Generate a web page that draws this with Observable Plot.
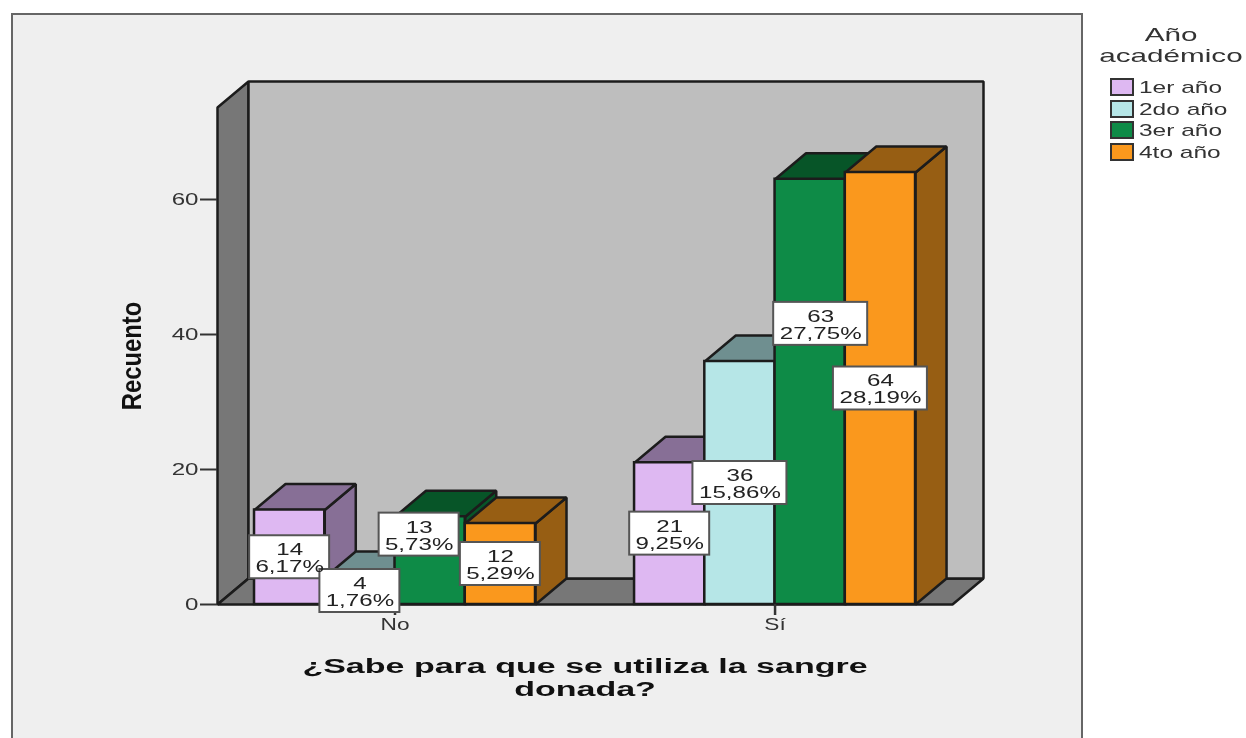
<!DOCTYPE html>
<html lang="es">
<head>
<meta charset="utf-8">
<script src="https://cdn.jsdelivr.net/npm/d3@7"></script>
<script src="https://cdn.jsdelivr.net/npm/@observablehq/plot@0.6"></script>
<style>
html,body{margin:0;padding:0;background:#fff;width:1246px;height:738px;overflow:hidden;font-family:"Liberation Sans",Arial,sans-serif}
#panel{position:absolute;left:11px;top:13px;width:1068px;height:725px;background:#efefef;border:2px solid #666;border-bottom:none;box-sizing:content-box}
#chart{position:absolute;left:0;top:0;filter:blur(0.5px)}
#legend{position:absolute;left:1090px;top:0;width:156px;height:180px;color:#333;font-size:17px;filter:blur(0.5px)}
#legend .t{position:absolute;left:15px;width:132px;text-align:center;font-size:19px;transform:scaleX(1.56);transform-origin:66px 0;line-height:20px}
#legend .s{position:absolute;left:20px;width:20px;height:14px;border:2px solid #333}
#legend .l{position:absolute;left:49px;line-height:20px;white-space:nowrap;transform:scaleX(1.44);transform-origin:0 0}
</style>
</head>
<body>
<div id="panel"></div>
<div id="chart"></div>
<div id="legend"></div>
<script>
const categories = ["No", "Sí"];
const series = ["1er año", "2do año", "3er año", "4to año"];
const counts = [[14, 4, 13, 12], [21, 36, 63, 64]];
const percents = [["6,17%", "1,76%", "5,73%", "5,29%"], ["9,25%", "15,86%", "27,75%", "28,19%"]];
const yTicks = [0, 20, 40, 60];
const frontColors = ["#deb8f2", "#b6e6e7", "#0e8b47", "#fa981d"];
const shadeColors = ["#876f96", "#6f8f90", "#075528", "#975e13"];
const xLabel = "¿Sabe para que se utiliza la sangre\ndonada?";
const yLabel = "Recuento";
const legendTitle = ["Año", "académico"];

// Layout helpers (one x unit = one bar width)
const pxPerX = 70.25, pxPerY = 6.75;
const xDomain = [-2.527, 7.936], yDomain = [0, 73.63];
const groupPos = [0, 5.41];
const depthX = 31 / pxPerX, depthY = 26 / pxPerY;
const nudges = {"0-2": [-11, -26], "1-2": [10.5, -68]};

const poly = (id, color, pts) => pts.map(([x, y]) => ({id, color, x, y}));
const faces = [];
const [xa, xb] = xDomain, yTop = yDomain[1];
faces.push(...poly("wall", "#777777", [[xa, 0], [xa, yTop], [xa + depthX, yTop + depthY], [xa + depthX, depthY]]));
faces.push(...poly("floor", "#777777", [[xa, 0], [xa + depthX, depthY], [xb + depthX, depthY], [xb, 0]]));
faces.push(...poly("back", "#bebebe", [[xa + depthX, depthY], [xa + depthX, yTop + depthY], [xb + depthX, yTop + depthY], [xb + depthX, depthY]]));

const fronts = [], boxes = [];
categories.forEach((c, g) => {
  series.forEach((s, i) => {
    const v = counts[g][i];
    const x0 = groupPos[g] + i - 2, x1 = x0 + 1;
    faces.push(...poly(`side${g}${i}`, shadeColors[i], [[x1, 0], [x1, v], [x1 + depthX, v + depthY], [x1 + depthX, depthY]]));
    faces.push(...poly(`top${g}${i}`, shadeColors[i], [[x0, v], [x1, v], [x1 + depthX, v + depthY], [x0 + depthX, v + depthY]]));
    fronts.push({x1: x0, x2: x1, y1: 0, y2: v, color: frontColors[i]});
    const [nx, ny] = nudges[`${g}-${i}`] || [0, 0];
    const cx = x0 + 0.5 + nx / pxPerX, cy = v / 2 - ny / pxPerY;
    const p = percents[g][i];
    const halfW = (p.length > 5 ? 47 : 40) / pxPerX, halfH = 21.5 / pxPerY;
    boxes.push({cx, cy, x1: cx - halfW, x2: cx + halfW, y1: cy - halfH, y2: cy + halfH, text: `${v}\n${p}`});
  });
});

const plot = Plot.plot({
  width: 1246, height: 738,
  marginLeft: 217, marginRight: 294, marginTop: 107, marginBottom: 134,
  style: {background: "transparent", fontFamily: "'Liberation Sans', Arial, sans-serif"},
  x: {type: "linear", domain: xDomain},
  y: {type: "linear", domain: yDomain},
  color: {type: "identity"},
  marks: [
    Plot.line(faces, {x: "x", y: "y", z: "id", fill: "color", stroke: "#1c1c1c", strokeWidth: 2.5, curve: "linear-closed", strokeLinejoin: "miter"}),
    Plot.rect(fronts, {x1: "x1", x2: "x2", y1: "y1", y2: "y2", fill: "color", stroke: "#1c1c1c", strokeWidth: 2.5}),
    Plot.axisY({ticks: yTicks, tickSize: 17, tickPadding: 2, fontSize: 17, color: "#333", strokeWidth: 2, label: yLabel, labelAnchor: "center", labelArrow: "none", labelOffset: 96}),
    Plot.axisX({ticks: groupPos, tickFormat: d => categories[groupPos.indexOf(d)], tickSize: 11, tickPadding: 3, fontSize: 16, color: "#333", strokeWidth: 2.5, label: xLabel, labelAnchor: "center", labelArrow: "none", labelOffset: 89}),
    Plot.rect(boxes, {x1: "x1", x2: "x2", y1: "y1", y2: "y2", fill: "white", stroke: "#555", strokeWidth: 2}),
    Plot.text(boxes, {x: "cx", y: "cy", dy: 1, text: "text", fontSize: 17, lineHeight: 1, fill: "#222", className: "boxlabel"})
  ]
});
document.getElementById("chart").append(plot);

// The reference is stretched horizontally: stretch the text the same way.
plot.querySelectorAll("text").forEach(t => {
  const content = t.textContent;
  const tf = t.getAttribute("transform") || "";
  let sx = 1.42, sy = 1;
  if (content.startsWith("¿Sabe")) {
    t.style.fontSize = "20.5px"; t.style.fontWeight = "bold"; t.style.fill = "#111"; sx = 1.66;
    const spans = t.querySelectorAll("tspan");
    if (spans.length > 1) spans[1].setAttribute("dy", "1.14em");
  } else if (content === yLabel) {
    t.style.fontSize = "28px"; t.style.fontWeight = "bold"; t.style.fill = "#111"; sx = 0.85;
  }
  t.setAttribute("transform", `${tf} scale(${sx},${sy})`);
});

const legend = d3.select("#legend");
legendTitle.forEach((s, i) => legend.append("div").attr("class", "t").style("top", `${25 + i * 20.5}px`).text(s));
series.forEach((s, i) => {
  const y = 78 + i * 21.6;
  legend.append("div").attr("class", "s").style("top", `${y}px`).style("background", frontColors[i]);
  legend.append("div").attr("class", "l").style("top", `${y}px`).text(s);
});
</script>
</body>
</html>
